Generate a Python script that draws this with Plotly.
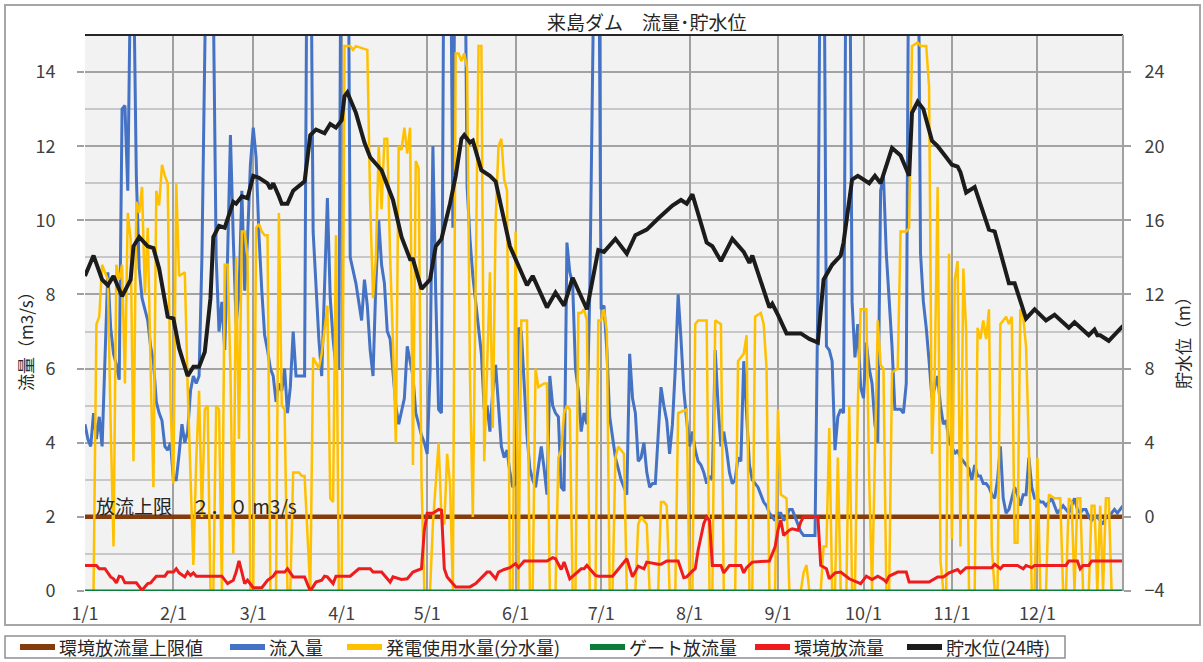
import pandas as pd
import plotly.graph_objects as go

START = pd.Timestamp("2023-01-01")

month_labels = ["1/1", "2/1", "3/1", "4/1", "5/1", "6/1",
                "7/1", "8/1", "9/1", "10/1", "11/1", "12/1"]

# (day of year from 1/1, value) pairs
limit_pts = [(0, 2.0), (364, 2.0)]
gate_pts = [(0, 0.0), (364, 0.0)]

inflow_pts = [
    (0, 4.5), (1, 4.1), (2, 3.9), (3, 4.8), (4, 4.1), (5, 4.7), (6, 3.9), (7, 6.0), (8, 8.6),
    (9, 7.1), (10, 6.4), (11, 6.1), (12, 5.7), (13, 13.0), (14, 13.1), (15, 10.8), (16, 17),
    (17, 17), (18, 11.2), (19, 8.7), (20, 7.9), (21, 7.6), (22, 7.3), (23, 6.6), (24, 6.2),
    (25, 5.1), (26, 4.8), (27, 4.6), (28, 3.9), (29, 3.8), (30, 4.0), (31, 3.0), (32, 3.0),
    (33, 3.7), (34, 4.5), (35, 4.0), (36, 4.3), (37, 5.4), (38, 5.8), (39, 5.6), (40, 5.8),
    (41, 9.0), (42, 18), (43, 20), (44, 20), (45, 16), (46, 9.0), (47, 7.0), (48, 7.8),
    (49, 6.5), (50, 9.0), (51, 12.3), (52, 9.5), (53, 7.2), (54, 8.0), (55, 10.8), (56, 8.1),
    (57, 9.5), (58, 11.5), (59, 12.5), (60, 11.7), (61, 9.6), (62, 8.1), (63, 6.9), (64, 6.5),
    (65, 6.0), (66, 5.8), (67, 5.1), (68, 5.6), (69, 5.4), (70, 6.0), (71, 4.8), (72, 5.5),
    (73, 7.0), (74, 5.8), (77, 5.8), (78, 20), (79, 20), (80, 9.7), (81, 8.1), (82, 6.8),
    (83, 5.8), (85, 10.6), (86, 7.9), (87, 6.8), (88, 6.0), (89, 6.0), (90, 22), (92, 22),
    (93, 9.0), (94, 8.6), (95, 8.3), (97, 7.3), (98, 8.4), (99, 7.7), (100, 6.5), (101, 5.8),
    (102, 8.3), (103, 10.0), (104, 8.8), (105, 8.3), (106, 7.0), (107, 6.8), (108, 5.8),
    (109, 5.0), (110, 4.5), (112, 5.2), (113, 6.6), (115, 5.8), (116, 4.8), (118, 4.2),
    (119, 4.0), (120, 3.7), (121, 5.9), (122, 12.0), (123, 8.0), (124, 4.9), (125, 4.8),
    (126, 20), (128, 20), (129, 9.8), (130, 20), (131, 22), (132, 22), (133, 20), (134, 10.9),
    (135, 9.5), (136, 8.5), (137, 7.8), (138, 7.0), (139, 6.4), (140, 4.9), (141, 5.0),
    (142, 4.3), (143, 5.4), (144, 6.1), (145, 4.9), (146, 3.9), (147, 3.6), (148, 3.8),
    (149, 3.2), (150, 2.8), (151, 2.9), (152, 7.1), (153, 7.0), (154, 5.4), (155, 4.2),
    (156, 3.3), (157, 3.0), (158, 2.8), (159, 3.3), (160, 3.9), (161, 3.3), (162, 2.6),
    (163, 5.8), (164, 5.0), (165, 4.8), (166, 4.7), (167, 2.8), (168, 2.7), (169, 9.4),
    (170, 8.6), (171, 8.3), (172, 6.0), (173, 5.4), (174, 4.3), (175, 4.8), (176, 4.5),
    (177, 8.0), (178, 20), (179, 20), (180, 20), (181, 7.6), (182, 7.7), (183, 6.5),
    (184, 4.7), (185, 4.1), (186, 3.6), (187, 3.3), (188, 3.0), (189, 2.8), (190, 2.6),
    (191, 6.4), (192, 5.2), (193, 4.8), (194, 3.5), (195, 3.6), (196, 4.0), (197, 3.2),
    (198, 2.8), (199, 2.9), (200, 2.9), (201, 4.2), (202, 5.5), (203, 5.0), (204, 4.6),
    (205, 3.7), (206, 4.5), (207, 6.0), (208, 8.0), (209, 6.8), (210, 5.4), (211, 4.6),
    (212, 3.9), (213, 4.3), (214, 3.8), (215, 3.5), (216, 3.4), (217, 3.2), (218, 2.9),
    (219, 3.1), (220, 3.0), (221, 6.5), (222, 5.0), (223, 3.9), (224, 4.3), (225, 3.8),
    (226, 3.2), (227, 2.9), (228, 3.0), (229, 3.6), (230, 3.5), (231, 6.2), (232, 4.8),
    (233, 3.4), (234, 3.0), (235, 2.9), (236, 2.8), (237, 2.6), (238, 2.4), (239, 2.3),
    (240, 2.1), (241, 2.0), (242, 1.9), (243, 2.1), (244, 2.1), (245, 1.9), (246, 2.0),
    (247, 2.2), (248, 2.2), (249, 2.0), (250, 1.8), (251, 1.6), (252, 1.5), (256, 1.5),
    (257, 8.0), (258, 20), (259, 20), (260, 6.6), (261, 6.5), (262, 6.2), (263, 3.8),
    (264, 4.7), (265, 4.9), (266, 4.8), (267, 20), (268, 20), (269, 7.8), (270, 6.3),
    (271, 7.2), (272, 5.5), (273, 5.2), (274, 6.7), (275, 6.0), (276, 5.6), (277, 4.5),
    (278, 4.0), (279, 10.8), (280, 11.2), (281, 9.1), (282, 7.8), (283, 6.6), (284, 4.9),
    (285, 4.9), (286, 4.9), (287, 4.8), (288, 5.6), (289, 20), (290, 22), (291, 22), (292, 20),
    (293, 9.1), (294, 7.8), (295, 7.1), (296, 6.2), (297, 5.2), (298, 5.5), (299, 5.8),
    (300, 5.0), (301, 4.5), (302, 4.6), (303, 4.0), (304, 3.9), (305, 3.7), (306, 3.8),
    (307, 3.6), (308, 3.5), (309, 3.4), (310, 3.3), (311, 3.0), (312, 3.4), (313, 3.1),
    (314, 3.1), (315, 2.9), (316, 2.9), (317, 2.8), (318, 2.6), (319, 2.5), (320, 3.0),
    (321, 3.9), (322, 2.5), (323, 2.1), (324, 2.2), (325, 2.5), (326, 2.8), (327, 2.6),
    (328, 2.3), (329, 2.6), (330, 2.6), (331, 3.6), (332, 2.8), (333, 2.5), (334, 2.5),
    (335, 2.4), (336, 2.4), (337, 2.3), (338, 2.4), (339, 2.5), (340, 2.3), (341, 2.1),
    (342, 2.2), (343, 2.3), (344, 2.2), (345, 2.1), (346, 2.3), (347, 2.5), (348, 2.2),
    (349, 2.1), (350, 2.2), (351, 2.2), (352, 2.0), (353, 1.9), (354, 2.0), (355, 2.0),
    (356, 1.9), (357, 1.8), (358, 2.0), (359, 2.0), (360, 2.1), (361, 2.2), (362, 2.1),
    (363, 2.2), (364, 2.3),
]

power_pts = [
    (0, 0), (2, 0), (3, 0), (4, 7.2), (5, 7.4), (6, 8.8), (8, 8.4), (9, 4.5), (10, 1.2),
    (11, 8.8), (12, 8.4), (13, 8.8), (14, 5.6), (15, 10.2), (16, 9.5), (17, 3.5), (18, 10.5),
    (19, 10.2), (20, 10.9), (21, 8.0), (22, 9.8), (23, 6.0), (24, 2.8), (25, 10.8), (26, 10.4),
    (27, 11.5), (28, 11.2), (29, 11.0), (30, 5.0), (31, 2.9), (32, 11.0), (33, 8.5), (35, 8.6),
    (36, 5.5), (37, 3.0), (38, 0.7), (39, 3.5), (40, 5.4), (41, 2.0), (42, 4.9), (43, 5.0),
    (44, 0), (45, 0), (46, 5.0), (47, 4.9), (48, 0), (49, 8.8), (50, 8.8), (51, 6.0), (52, 1.0),
    (53, 9.0), (54, 4.1), (55, 9.7), (56, 9.7), (57, 9.0), (58, 0), (59, 0), (60, 9.8),
    (61, 9.9), (62, 9.7), (63, 9.6), (64, 9.6), (65, 0), (67, 0), (68, 10.2), (69, 5.0),
    (70, 4.9), (71, 0), (72, 0), (73, 3.2), (75, 3.2), (76, 3.1), (77, 3.1), (79, 0), (80, 6.3),
    (82, 6.0), (83, 6.4), (85, 7.7), (86, 2.5), (87, 2.4), (88, 9.6), (89, 0), (90, 0),
    (91, 14.7), (93, 14.7), (94, 14.6), (95, 14.7), (99, 14.6), (100, 10.5), (101, 7.9),
    (102, 9.0), (103, 12.0), (104, 10.3), (105, 12.2), (106, 12.2), (107, 9.0), (108, 6.7),
    (109, 4.0), (110, 12.0), (111, 11.9), (112, 12.5), (113, 11.8), (114, 12.5), (115, 3.4),
    (116, 11.6), (117, 11.4), (118, 3.0), (119, 0), (121, 0), (122, 1.8), (124, 4.0),
    (125, 2.0), (126, 1.8), (127, 3.7), (128, 2.9), (129, 0), (130, 14.5), (131, 14.5),
    (132, 14.3), (133, 14.5), (134, 14.1), (135, 5.8), (136, 2.0), (137, 9.0), (138, 14.7),
    (139, 14.7), (140, 3.5), (141, 6.0), (142, 8.6), (143, 4.4), (144, 10.0), (145, 12.0),
    (146, 12.2), (147, 11.1), (148, 10.8), (149, 0), (150, 0), (151, 9.7), (152, 0), (153, 7.3),
    (155, 7.3), (156, 0), (157, 0), (158, 6.0), (159, 5.5), (161, 5.6), (162, 5.6), (163, 0),
    (165, 0), (166, 3.6), (167, 3.8), (168, 4.8), (169, 5.0), (170, 4.9), (171, 0), (172, 0),
    (173, 7.5), (174, 7.5), (175, 7.6), (176, 7.3), (177, 0), (179, 0), (180, 7.3), (181, 7.3),
    (182, 7.6), (183, 7.0), (184, 0), (185, 0), (186, 3.6), (187, 3.9), (188, 3.8), (189, 3.7),
    (190, 0), (193, 0), (194, 1.8), (195, 2.0), (197, 1.8), (198, 0), (201, 0), (202, 2.4),
    (203, 2.4), (204, 2.3), (205, 0), (207, 0), (208, 4.8), (211, 4.9), (212, 0), (213, 0),
    (214, 7.2), (215, 7.3), (216, 7.3), (218, 7.3), (219, 0), (220, 0), (221, 7.3), (223, 7.2),
    (224, 0), (228, 0), (229, 6.2), (231, 6.4), (232, 6.9), (233, 0), (234, 0), (235, 7.4),
    (237, 7.5), (238, 7.2), (239, 6.0), (240, 0), (242, 0), (243, 4.9), (244, 2.6), (246, 2.5),
    (247, 0), (251, 0), (252, 0.5), (253, 0.7), (254, 0), (258, 0), (259, 1.2), (260, 1.2),
    (261, 4.4), (262, 0), (263, 0), (264, 3.6), (265, 0), (267, 0), (268, 5.0), (269, 0),
    (270, 0), (271, 5.0), (272, 7.6), (274, 7.6), (275, 3.0), (276, 0), (278, 7.3), (279, 6.1),
    (280, 6.0), (281, 0), (282, 0), (283, 5.9), (285, 6.0), (286, 9.7), (288, 9.7), (289, 9.8),
    (290, 14.7), (292, 14.8), (293, 14.7), (295, 14.7), (296, 13.6), (297, 3.7), (298, 6.0),
    (299, 10.9), (300, 0.8), (301, 0), (302, 0), (303, 9.1), (304, 1.4), (305, 8.4), (306, 8.9),
    (307, 1.2), (308, 8.7), (309, 7.0), (310, 0), (312, 0), (313, 7.1), (314, 6.8), (315, 7.3),
    (316, 6.8), (317, 7.6), (318, 1.2), (319, 0), (320, 0), (321, 7.2), (322, 7.3), (323, 7.4),
    (324, 7.2), (325, 7.4), (326, 1.3), (327, 1.3), (328, 7.6), (329, 7.4), (330, 6.6),
    (331, 3.9), (332, 0), (333, 0), (334, 3.6), (335, 0), (337, 0), (338, 2.6), (340, 2.5),
    (341, 2.5), (342, 2.5), (343, 0), (344, 0), (345, 2.5), (346, 2.4), (347, 0), (348, 2.5),
    (349, 2.5), (350, 0), (352, 0), (353, 2.3), (354, 2.3), (355, 0), (356, 2.3), (357, 0),
    (358, 2.5), (359, 2.5), (360, 0), (364, 0),
]

env_pts = [
    (0, 0.69), (4, 0.69), (5, 0.6), (7, 0.6), (9, 0.38), (10, 0.33), (11, 0.22), (12, 0.4),
    (13, 0.38), (14, 0.22), (18, 0.22), (20, 0.02), (22, 0.2), (23, 0.22), (25, 0.4), (28, 0.4),
    (29, 0.51), (31, 0.51), (32, 0.6), (33, 0.49), (35, 0.38), (36, 0.51), (37, 0.42),
    (38, 0.49), (39, 0.4), (48, 0.4), (50, 0.2), (52, 0.29), (53, 0.51), (54, 0.81), (55, 0.51),
    (56, 0.2), (57, 0.29), (59, 0.09), (62, 0.09), (64, 0.29), (66, 0.4), (67, 0.51), (70, 0.51),
    (71, 0.6), (73, 0.38), (77, 0.38), (79, 0.0), (81, 0.24), (83, 0.29), (84, 0.4), (85, 0.38),
    (86, 0.29), (87, 0.2), (88, 0.4), (93, 0.4), (96, 0.6), (100, 0.6), (101, 0.51), (104, 0.51),
    (107, 0.24), (108, 0.38), (111, 0.31), (113, 0.33), (115, 0.51), (118, 0.6), (119, 1.64),
    (120, 2.1), (122, 2.1), (124, 2.2), (125, 2.18), (126, 0.6), (127, 0.38), (128, 0.29),
    (130, 0.11), (135, 0.11), (137, 0.2), (141, 0.51), (142, 0.51), (144, 0.33), (145, 0.51),
    (147, 0.58), (149, 0.63), (151, 0.74), (152, 0.63), (154, 0.81), (162, 0.81), (164, 0.9),
    (165, 0.87), (167, 0.58), (168, 0.78), (170, 0.33), (174, 0.6), (175, 0.6), (176, 0.69),
    (179, 0.42), (180, 0.4), (185, 0.4), (187, 0.58), (189, 0.78), (190, 0.87), (192, 0.38),
    (194, 0.67), (196, 0.6), (197, 0.78), (201, 0.72), (202, 0.72), (204, 0.81), (208, 0.81),
    (210, 0.36), (211, 0.38), (213, 0.54), (214, 0.6), (215, 1.1), (217, 1.82), (218, 2.0),
    (219, 1.9), (220, 0.69), (223, 0.69), (224, 0.49), (226, 0.69), (230, 0.69), (231, 0.49),
    (232, 0.63), (234, 0.78), (240, 0.81), (242, 1.19), (243, 1.64), (244, 1.91), (245, 1.5),
    (247, 1.64), (248, 1.68), (250, 1.64), (251, 1.86), (252, 2.0), (257, 2.0), (258, 0.69),
    (260, 0.6), (261, 0.33), (263, 0.49), (265, 0.51), (268, 0.33), (270, 0.27), (271, 0.24),
    (272, 0.2), (274, 0.4), (276, 0.31), (278, 0.4), (280, 0.31), (281, 0.24), (282, 0.4),
    (285, 0.51), (288, 0.51), (289, 0.24), (296, 0.24), (299, 0.38), (301, 0.38), (303, 0.49),
    (306, 0.58), (307, 0.49), (309, 0.63), (318, 0.63), (319, 0.72), (321, 0.6), (322, 0.69),
    (327, 0.69), (329, 0.6), (330, 0.69), (332, 0.63), (333, 0.69), (344, 0.69), (345, 0.81),
    (348, 0.81), (349, 0.6), (350, 0.69), (352, 0.69), (353, 0.81), (364, 0.81),
]

level_pts = [
    (0, 13.0), (3, 14.1), (6, 12.8), (8, 12.5), (10, 13.0), (13, 11.9), (16, 12.8), (17, 14.6),
    (19, 15.1), (22, 14.6), (24, 14.5), (26, 13.4), (29, 10.8), (31, 10.7), (33, 9.1), (36, 7.6),
    (38, 8.1), (40, 8.1), (42, 8.9), (44, 11.8), (45, 15.1), (47, 15.7), (49, 15.6), (50, 16.1),
    (52, 17.0), (53, 16.9), (55, 17.3), (57, 17.2), (59, 18.4), (61, 18.3), (64, 18.0),
    (65, 17.7), (66, 18.0), (68, 17.3), (69, 16.9), (71, 16.9), (73, 17.6), (77, 18.1),
    (79, 20.6), (81, 20.9), (84, 20.7), (86, 21.2), (88, 21.0), (90, 21.4), (91, 22.7),
    (92, 22.9), (95, 21.8), (98, 20.2), (100, 19.4), (104, 18.7), (107, 17.5), (108, 17.1),
    (111, 15.1), (114, 13.9), (115, 13.9), (117, 12.8), (118, 12.3), (121, 12.8), (123, 14.6),
    (125, 15.0), (128, 16.9), (130, 18.4), (132, 20.4), (133, 20.6), (135, 20.2), (136, 20.3),
    (139, 18.7), (142, 18.4), (144, 18.1), (149, 14.6), (152, 13.6), (155, 12.5), (157, 13.0),
    (162, 11.3), (165, 12.1), (168, 11.4), (171, 12.9), (176, 11.2), (180, 14.4), (182, 14.3),
    (186, 15.0), (190, 14.2), (193, 15.2), (197, 15.5), (201, 16.1), (206, 16.8), (209, 17.1),
    (211, 16.9), (213, 17.4), (216, 15.9), (218, 14.8), (220, 14.6), (223, 13.8), (227, 15.0),
    (230, 14.5), (231, 14.3), (233, 13.7), (234, 14.1), (240, 11.3), (241, 11.5), (243, 10.9),
    (246, 9.9), (251, 9.9), (254, 9.6), (257, 9.4), (259, 12.8), (262, 13.6), (265, 14.1),
    (266, 14.8), (268, 16.9), (269, 18.2), (271, 18.4), (275, 18.0), (277, 18.4), (279, 18.0),
    (283, 19.9), (286, 19.5), (289, 18.4), (290, 21.8), (292, 22.4), (294, 22.0), (297, 20.3),
    (299, 20.0), (302, 19.4), (304, 19.0), (306, 18.9), (307, 18.6), (309, 17.5), (312, 17.8),
    (317, 15.5), (319, 15.4), (324, 12.6), (326, 12.6), (330, 10.7), (333, 11.2), (337, 10.6),
    (340, 10.9), (345, 10.2), (347, 10.5), (352, 9.8), (354, 10.1), (355, 9.8), (356, 9.8),
    (359, 9.5), (364, 10.3),
]

# name, points, colour, width, axis
series = [
    ("環境放流量上限値", limit_pts, "#843c0c", 4.5, "y"),
    ("流入量", inflow_pts, "#4472c4", 3, "y"),
    ("発電使用水量(分水量)", power_pts, "#ffc000", 2.5, "y"),
    ("ゲート放流量", gate_pts, "#0a7d3a", 3, "y"),
    ("環境放流量", env_pts, "#ee1c1c", 3, "y"),
    ("貯水位(24時)", level_pts, "#1c1c1c", 4, "y2"),
]
legend_x = [20, 230, 347, 590, 755, 907]   # pixel left of each legend sample

FONT = "Noto Sans CJK JP"
L, R, T, B = 85, 80, 35, 71
PW, PH = 1203 - L - R, 662 - T - B


def fx(px):
    return (px - L) / PW


def fy(py):
    return (662 - B - py) / PH


def to_xy(pts):
    days = [p[0] for p in pts]
    vals = [p[1] for p in pts]
    return START + pd.to_timedelta(days, unit="D"), vals


fig = go.Figure()
for name, pts, color, width, axis in series:
    x, y = to_xy(pts)
    fig.add_trace(go.Scatter(x=x, y=y, name=name, mode="lines", yaxis=axis,
                             line=dict(color=color, width=width)))

month_starts = pd.date_range("2023-01-01", periods=12, freq="MS")

fig.update_layout(
    width=1203, height=662,
    margin=dict(l=L, r=R, t=T, b=B),
    paper_bgcolor="white", plot_bgcolor="#f2f2f2",
    showlegend=False,
    font=dict(family=FONT, size=18, color="#404040"),
    xaxis=dict(type="date", range=["2023-01-01", "2023-12-31"],
               tickvals=month_starts, ticktext=month_labels,
               showgrid=True, gridcolor="#a0a0a0", gridwidth=2,
               ticks="", ticklabelstandoff=10, zeroline=False, showline=False),
    yaxis=dict(range=[0, 15], tickvals=list(range(0, 15, 2)),
               showgrid=True, gridcolor="#a3a3a3", gridwidth=2,
               minor=dict(dtick=1, showgrid=True, gridcolor="#c8c8c8", gridwidth=2),
               ticks="outside", ticklen=7, tickwidth=2, tickcolor="#a0a0a0",
               ticklabelstandoff=18, zeroline=False, showline=False),
    yaxis2=dict(range=[-4, 26], tickvals=list(range(-4, 25, 4)), overlaying="y",
                side="right", showgrid=False, zeroline=False,
                ticks="outside", ticklen=7, tickwidth=2, tickcolor="#a0a0a0",
                ticklabelstandoff=10),
)

shapes = [
    # outer chart frame
    dict(type="rect", xref="paper", yref="paper", x0=fx(5), x1=fx(1200), y0=fy(625), y1=fy(5),
         line=dict(color="#a6a6a6", width=2)),
    # plot area top and right edges
    dict(type="line", xref="paper", yref="paper", x0=0, x1=1, y0=1, y1=1,
         line=dict(color="#262626", width=2)),
    dict(type="line", xref="paper", yref="paper", x0=1, x1=1, y0=0, y1=1,
         line=dict(color="#a0a0a0", width=2)),
    # legend frame
    dict(type="rect", xref="paper", yref="paper", x0=fx(5), x1=fx(1065), y0=fy(658), y1=fy(636),
         line=dict(color="#909090", width=1.5)),
]


def label(text, px, py, size, anchor="center", angle=0):
    return dict(text=text, xref="paper", yref="paper", x=fx(px), y=fy(py),
                xanchor=anchor, yanchor="middle", textangle=angle, showarrow=False,
                font=dict(size=size, color="#262626"))


annotations = [
    label("来島ダム　流量･貯水位", 647, 22, 19),
    label("流量（m3/s）", 25, 337, 17, angle=-90),
    label("貯水位（m）", 1183, 339, 17, angle=-90),
    label("放流上限　２．０ m3/s", 94, 505, 19, anchor="left"),
]
for (name, _, color, _, _), lx in zip(series, legend_x):
    shapes.append(dict(type="line", xref="paper", yref="paper", x0=fx(lx), x1=fx(lx + 35),
                       y0=fy(647), y1=fy(647), line=dict(color=color, width=6)))
    annotations.append(label(name, lx + 37, 647, 18, anchor="left"))

fig.update_layout(shapes=shapes, annotations=annotations)

fig.write_html("out.html", config={"displayModeBar": False},
               post_script="document.body.style.margin = '0';")
